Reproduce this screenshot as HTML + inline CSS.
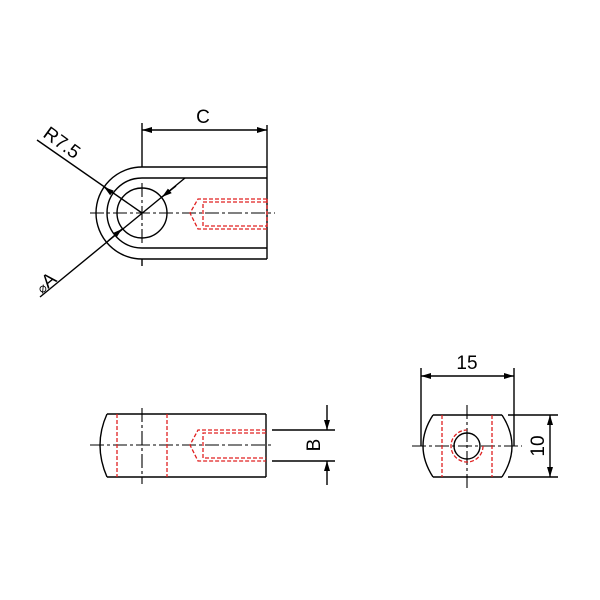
<!DOCTYPE html>
<html><head><style>body{margin:0;background:#fff}svg{display:block}</style></head><body>
<svg width="600" height="600" viewBox="0 0 600 600" xmlns="http://www.w3.org/2000/svg" font-family="Liberation Sans, sans-serif">
<defs>
<marker id="a" viewBox="0 0 10 10" refX="10" refY="5" markerWidth="10" markerHeight="10" markerUnits="userSpaceOnUse" orient="auto-start-reverse"><path d="M0,2 L10,5 L0,8 z" fill="#000"/></marker>
</defs>
<rect width="600" height="600" fill="#fff"/>
<g stroke="#000" stroke-width="1.4" fill="none">
<path d="M142,167 A46,46 0 0 0 142,259"/>
<path d="M142,178 A35,35 0 0 0 142,248"/>
<circle cx="142" cy="213" r="25"/>
<line x1="142" y1="167" x2="267" y2="167"/>
<line x1="142" y1="259" x2="267" y2="259"/>
<line x1="142" y1="178" x2="267" y2="178"/>
<line x1="142" y1="248" x2="267" y2="248"/>
<line x1="267" y1="125" x2="267" y2="259"/>
<line x1="142" y1="123" x2="142" y2="167"/>
<line x1="142" y1="259" x2="142" y2="266"/>
<line x1="142" y1="130" x2="267" y2="130" marker-start="url(#a)" marker-end="url(#a)"/>
<line x1="37" y1="140" x2="142" y2="213"/>
<line x1="108" y1="190" x2="104" y2="187" marker-end="url(#a)"/>
<line x1="40" y1="297" x2="185" y2="178"/>
<line x1="176" y1="186" x2="162" y2="197" marker-end="url(#a)"/>
<line x1="108" y1="241" x2="122" y2="229" marker-end="url(#a)"/>
<path d="M107,414 Q93,445 107,477"/>
<line x1="107" y1="414" x2="266" y2="414"/>
<line x1="107" y1="477" x2="266" y2="477"/>
<line x1="266" y1="414" x2="266" y2="477"/>
<line x1="272" y1="430" x2="335" y2="430"/>
<line x1="272" y1="461" x2="335" y2="461"/>
<line x1="327" y1="405" x2="327" y2="430" marker-end="url(#a)"/>
<line x1="327" y1="485" x2="327" y2="461" marker-end="url(#a)"/>
<path d="M433,415 Q413,446 433,477"/>
<path d="M502,415 Q522,446 502,477"/>
<line x1="433" y1="415" x2="502" y2="415"/>
<line x1="433" y1="477" x2="502" y2="477"/>
<circle cx="467" cy="446" r="13"/>
<line x1="421" y1="368" x2="421" y2="446"/>
<line x1="514" y1="368" x2="514" y2="446"/>
<line x1="421" y1="376" x2="514" y2="376" marker-start="url(#a)" marker-end="url(#a)"/>
<line x1="508" y1="415" x2="558" y2="415"/>
<line x1="508" y1="477" x2="558" y2="477"/>
<line x1="550" y1="415" x2="550" y2="477" marker-start="url(#a)" marker-end="url(#a)"/>
</g>
<g stroke="#000" stroke-width="1.1" stroke-dasharray="14,3,3,3" fill="none">
<line x1="90" y1="213" x2="275" y2="213"/>
<line x1="142" y1="183" x2="142" y2="245"/>
<line x1="90" y1="445" x2="273" y2="445"/>
<line x1="142" y1="408" x2="142" y2="484"/>
<line x1="412" y1="446" x2="522" y2="446"/>
<line x1="467" y1="405" x2="467" y2="488"/>
</g>
<g stroke="#e02020" stroke-width="1.3" stroke-dasharray="4,2" fill="none">
<path d="M267,199 L203,199 L198,199 L190,213 L198,229 L267,229"/>
<path d="M267,202 L203,202 L203,226 L267,226"/>
<line x1="267" y1="199" x2="267" y2="229"/>
<path d="M266,430 L198,430 L190,445 L198,461 L266,461"/>
<path d="M266,433 L203,433 L203,458 L266,458"/>
<line x1="117" y1="414" x2="117" y2="477"/>
<line x1="167" y1="414" x2="167" y2="477"/>
<line x1="442" y1="415" x2="442" y2="477"/>
<line x1="492" y1="415" x2="492" y2="477"/>
<path d="M483,446 A16,16 0 1 1 467,430"/>
</g>
<g font-size="19" fill="#000">
<text x="203" y="123" text-anchor="middle">C</text>
<text x="467" y="369" text-anchor="middle">15</text>
<text transform="translate(320,445) rotate(-90)" text-anchor="middle">B</text>
<text transform="translate(544,446) rotate(-90)" text-anchor="middle">10</text>
<text transform="translate(42,136) rotate(36)">R7.5</text>
<text transform="translate(42,294) rotate(-40)"><tspan font-size="13">⌀</tspan>A</text>
</g>
</svg>
</body></html>
